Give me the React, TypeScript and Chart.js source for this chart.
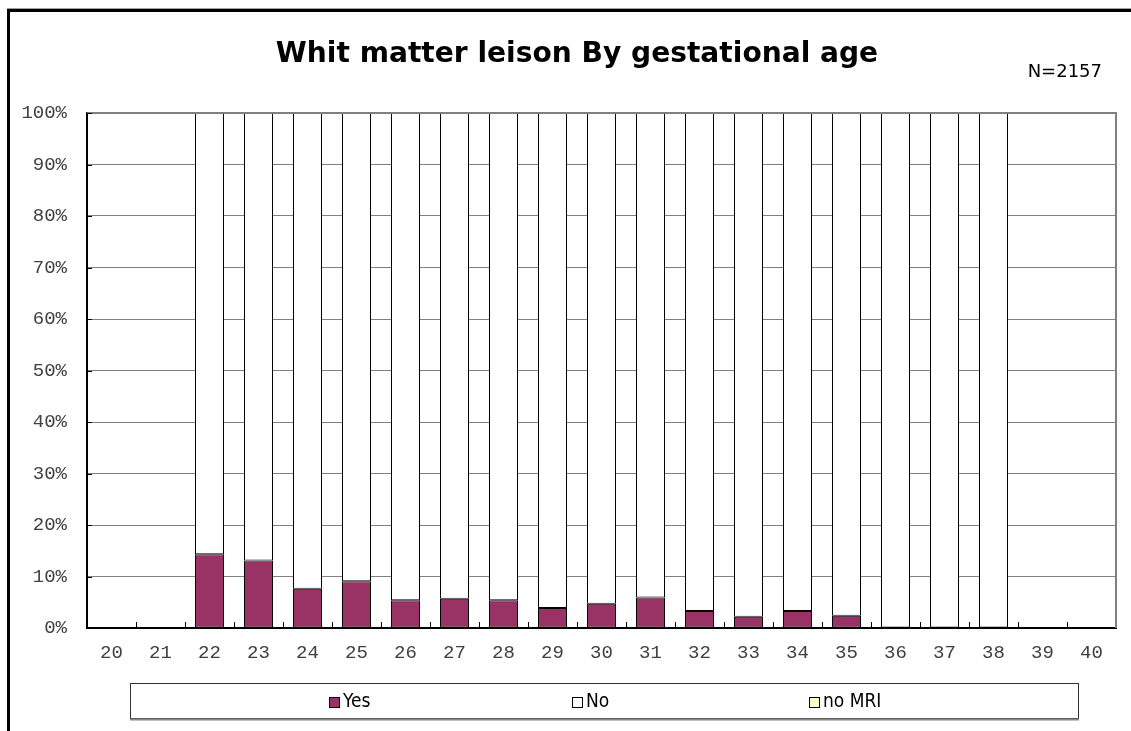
import { useEffect, useRef } from 'react';
import { Chart, registerables } from 'chart.js';

Chart.register(...registerables);

const categories = ['20', '21', '22', '23', '24', '25', '26', '27', '28', '29', '30', '31', '32', '33', '34', '35', '36', '37', '38', '39', '40'];
const yesValues = [null, null, 14.3, 13.1, 7.6, 9.1, 5.4, 5.7, 5.4, 3.9, 4.7, 5.9, 3.3, 2.2, 3.3, 2.4, 0, 0, 0, null, null];
const noValues = [null, null, 85.7, 86.9, 92.4, 90.9, 94.6, 94.3, 94.6, 96.1, 95.3, 94.1, 96.7, 97.8, 96.7, 97.6, 100, 100, 100, null, null];
const noMriValues = [null, null, 0, 0, 0, 0, 0, 0, 0, 0, 0, 0, 0, 0, 0, 0, 0, 0, 0, null, null];

const seriesLabels = ['Yes', 'No', 'no MRI'];
const seriesColors = ['#993366', '#FFFFFF', '#FFFFCC'];

const titleText = 'Whit matter leison By gestational age';
const noteText = 'N=2157';

const monoFont = { family: '"Liberation Mono", "DejaVu Sans Mono", monospace', size: 19 };

const decorPlugin = {
  id: 'decor',
  beforeDraw(chart: any) {
    const ctx = chart.ctx as CanvasRenderingContext2D;
    ctx.save();
    ctx.fillStyle = '#ffffff';
    ctx.fillRect(0, 0, chart.width, chart.height);
    // outer frame
    ctx.strokeStyle = '#a0a0a0';
    ctx.lineWidth = 1;
    ctx.beginPath();
    ctx.moveTo(7, 8.5);
    ctx.lineTo(chart.width, 8.5);
    ctx.stroke();
    ctx.strokeStyle = '#000000';
    ctx.lineWidth = 3;
    ctx.beginPath();
    ctx.moveTo(8.5, chart.height);
    ctx.lineTo(8.5, 10.5);
    ctx.lineTo(chart.width, 10.5);
    ctx.stroke();
    // title
    ctx.fillStyle = '#000000';
    ctx.textBaseline = 'alphabetic';
    ctx.textAlign = 'center';
    ctx.font = 'bold 26px "DejaVu Sans", sans-serif';
    const w = ctx.measureText(titleText).width;
    const size = Math.min(30, Math.max(20, (26 * 602) / w));
    ctx.font = `bold ${size.toFixed(1)}px "DejaVu Sans", sans-serif`;
    ctx.fillText(titleText, 577, 62);
    // N note
    ctx.textAlign = 'right';
    ctx.font = '18px "DejaVu Sans", sans-serif';
    ctx.fillText(noteText, 1102, 77);
    ctx.restore();
  },
  afterDraw(chart: any) {
    const ctx = chart.ctx as CanvasRenderingContext2D;
    const a = chart.chartArea;
    ctx.save();
    // top/right plot border
    ctx.strokeStyle = '#808080';
    ctx.lineWidth = 2;
    ctx.beginPath();
    ctx.moveTo(a.left, a.top);
    ctx.lineTo(a.right, a.top);
    ctx.lineTo(a.right, a.bottom);
    ctx.stroke();
    // inner tick marks
    ctx.strokeStyle = '#000000';
    ctx.lineWidth = 1;
    const n = categories.length;
    const cw = (a.right - a.left) / n;
    ctx.beginPath();
    for (let i = 1; i < n; i++) {
      const x = Math.round(a.left + i * cw) + 0.5;
      ctx.moveTo(x, a.bottom);
      ctx.lineTo(x, a.bottom - 6);
    }
    const ys = chart.scales.y;
    for (let v = 10; v <= 100; v += 10) {
      const y = Math.round(ys.getPixelForValue(v)) + 0.5;
      ctx.moveTo(a.left, y);
      ctx.lineTo(a.left + 5, y);
    }
    ctx.stroke();
    // legend box
    const lx = 130, ly = 683, lw = 948, lh = 35;
    ctx.strokeStyle = '#333333';
    ctx.lineWidth = 1;
    ctx.strokeRect(lx + 0.5, ly + 0.5, lw, lh);
    ctx.strokeStyle = '#888888';
    ctx.lineWidth = 2;
    ctx.beginPath();
    ctx.moveTo(lx, ly + lh + 1.5);
    ctx.lineTo(lx + lw + 1, ly + lh + 1.5);
    ctx.stroke();
    const itemX = [329, 572, 809];
    ctx.font = '19px "DejaVu Sans Condensed", "DejaVu Sans", sans-serif';
    ctx.textBaseline = 'middle';
    ctx.textAlign = 'left';
    chart.data.datasets.forEach((ds: any, i: number) => {
      const x = itemX[i];
      ctx.fillStyle = ds.backgroundColor;
      ctx.fillRect(x, 697, 10, 10);
      ctx.strokeStyle = '#000000';
      ctx.lineWidth = 1;
      ctx.strokeRect(x + 0.5, 697.5, 10, 10);
      ctx.fillStyle = '#000000';
      ctx.fillText(ds.label, x + 14, 702);
    });
    ctx.restore();
  },
};

export default function App() {
  const ref = useRef<HTMLCanvasElement | null>(null);
  useEffect(() => {
    if (!ref.current) return;
    const chart = new Chart(ref.current, {
      type: 'bar',
      data: {
        labels: categories,
        datasets: [
          { label: seriesLabels[0], data: yesValues, backgroundColor: seriesColors[0] },
          { label: seriesLabels[1], data: noValues, backgroundColor: seriesColors[1] },
          { label: seriesLabels[2], data: noMriValues, backgroundColor: seriesColors[2] },
        ].map((d) => ({
          ...d,
          borderColor: '#000000',
          borderWidth: 1,
          borderSkipped: false,
          barPercentage: 29 / 49,
          categoryPercentage: 1,
        })) as any,
      },
      options: {
        responsive: false,
        animation: false,
        layout: { padding: { left: 0, top: 113, right: 15, bottom: 63 } },
        plugins: {
          legend: { display: false },
          title: { display: false },
          tooltip: { enabled: false },
        },
        scales: {
          x: {
            stacked: true,
            grid: { display: false, drawTicks: false },
            border: { display: true, color: '#000000', width: 2 },
            ticks: { padding: 14, font: monoFont, color: '#404040', maxRotation: 0, autoSkip: false },
            afterFit: (s: any) => {
              s.height = 40;
            },
          },
          y: {
            stacked: true,
            min: 0,
            max: 100,
            grid: { color: '#808080', lineWidth: 1, drawTicks: false },
            border: { display: true, color: '#000000', width: 2 },
            ticks: {
              stepSize: 10,
              padding: 20,
              font: monoFont,
              color: '#404040',
              callback: (v: any) => `${v}%`,
            },
            afterFit: (s: any) => {
              s.width = 87;
            },
          },
        },
      } as any,
      plugins: [decorPlugin],
    });
    return () => chart.destroy();
  }, []);
  return (
    <div style={{ position: 'fixed', left: 0, top: 0, width: 1131, height: 731, background: '#fff' }}>
      <canvas ref={ref} width={1131} height={731} style={{ display: 'block' }} />
    </div>
  );
}
